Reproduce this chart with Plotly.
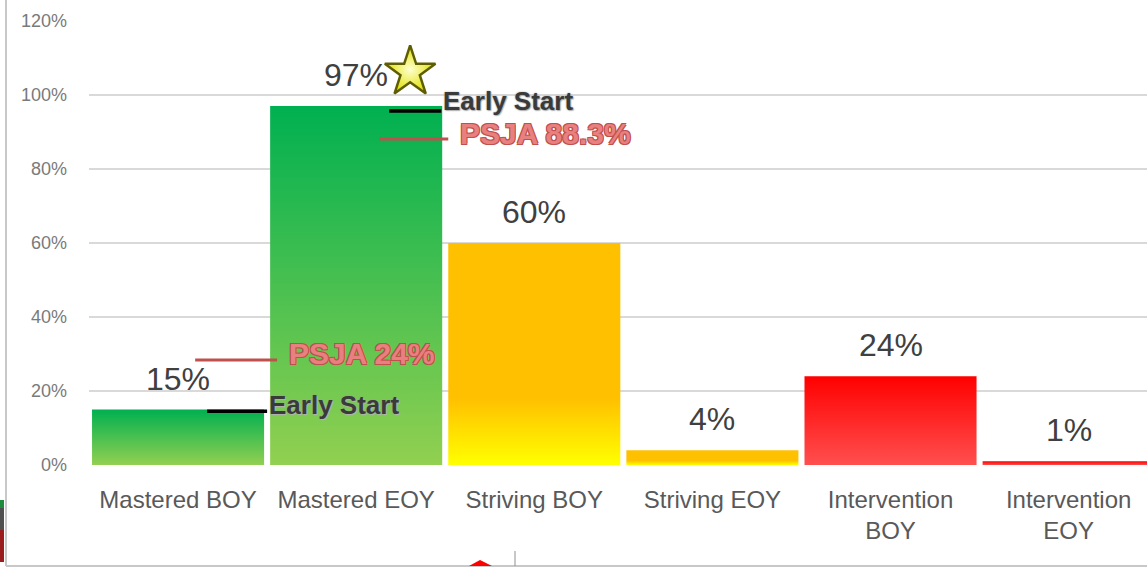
import plotly.graph_objects as go

categories = ["Mastered BOY", "Mastered EOY", "Striving BOY", "Striving EOY", "Intervention<br>BOY", "Intervention<br>EOY"]
values = [15, 97, 60, 4, 24, 1]
value_labels = ["15%", "97%", "60%", "4%", "24%", "1%"]
ytick_vals = [0, 20, 40, 60, 80, 100, 120]
ytick_text = ["0%", "20%", "40%", "60%", "80%", "100%", "120%"]

# reference markers on the Mastered bars
early_start_vals = [14.5, 95.7]
early_start_labels = ["Early Start", "Early Start"]
psja_vals = [28.4, 88.1]
psja_labels = ["PSJA 24%", "PSJA 88.3%"]

green = [[0, "#92D050"], [1, "#00B050"]]
gold = [[0, "#FFFF00"], [0.3, "#FFC000"], [1, "#FFC000"]]
red = [[0, "#FF4F4F"], [1, "#FF0000"]]
scales = [green, green, gold, gold, red, red]

fig = go.Figure()
hw = 0.483
for i, v in enumerate(values):
    fig.add_trace(go.Scatter(
        x=[i - hw, i - hw, i + hw, i + hw, i - hw],
        y=[0, v, v, 0, 0],
        mode="lines", line=dict(width=0), fill="toself",
        fillgradient=dict(type="vertical", colorscale=scales[i], start=0, stop=v),
        hoverinfo="skip", showlegend=False))
    fig.add_annotation(x=i, y=v, text=value_labels[i], showarrow=False,
                       yanchor="middle", yshift=31,
                       font=dict(family="Liberation Sans", size=32, color="#404040"))

es_offsets = [(0.163, 0.50), (0.185, 0.478)]
ps_offsets = [(0.096, 0.556), (0.129, 0.517)]
for i in range(2):
    a, b = es_offsets[i]
    fig.add_trace(go.Scatter(x=[i + a, i + b], y=[early_start_vals[i]] * 2, mode="lines",
                             line=dict(color="#000000", width=3.5), hoverinfo="skip", showlegend=False))
    fig.add_annotation(x=i + b, y=early_start_vals[i], text=early_start_labels[i], showarrow=False,
                       xanchor="left", yanchor="middle", xshift=0, yshift=6 if i == 0 else 10,
                       font=dict(family="Liberation Sans", size=26, color="#3a3a3a", weight=600,
                                 shadow="0 0 2px #a0a0a0, 1px 1px 1px #b8b8b8"))
    a, b = ps_offsets[i]
    fig.add_trace(go.Scatter(x=[i + a, i + b], y=[psja_vals[i]] * 2, mode="lines",
                             line=dict(color="#C0504D", width=3), hoverinfo="skip", showlegend=False))
    fig.add_annotation(x=i + b, y=psja_vals[i], text=psja_labels[i], showarrow=False,
                       xanchor="left", yanchor="middle", xshift=10, yshift=6,
                       font=dict(family="Liberation Sans", size=30, color="#E88080", weight="bold",
                                 shadow="-1px -1px 0 #C0504D, 1px -1px 0 #C0504D, -1px 1px 0 #C0504D, 1px 1px 0 #C0504D"))

# star beside the 97% label
fig.add_trace(go.Scatter(x=[1 + 0.303], y=[values[1] + 9.2], mode="markers",
                         marker=dict(symbol="star", size=38, color="#E0E000",
                                     gradient=dict(type="radial", color="#FFFFD0"),
                                     line=dict(color="#5E5E00", width=2.5)),
                         hoverinfo="skip", showlegend=False))


def px(xp):
    return (xp - 89) / 1058


def py(yp):
    return (465 - yp) / 444


fig.update_layout(
    width=1147, height=568,
    margin=dict(l=89, r=0, t=21, b=103),
    paper_bgcolor="white", plot_bgcolor="white",
    xaxis=dict(range=[-0.5, 5.44], tickmode="array", tickvals=list(range(len(categories))),
               ticktext=categories, showgrid=False, zeroline=False, showline=False,
               ticks="", ticklabelstandoff=18,
               tickfont=dict(family="Liberation Sans", size=24, color="#595959")),
    yaxis=dict(range=[0, 120], tickmode="array", tickvals=ytick_vals, ticktext=ytick_text,
               showgrid=True, gridcolor="#D9D9D9", gridwidth=1.5, zeroline=False,
               showline=False, ticks="", ticklabelstandoff=21,
               tickfont=dict(family="Liberation Sans", size=18, color="#7a7a7a")),
    shapes=[
        dict(type="line", xref="paper", yref="paper", x0=px(6), x1=px(6),
             y0=py(0), y1=py(566), line=dict(color="#C8C8C8", width=2)),
        dict(type="line", xref="paper", yref="paper", x0=px(6), x1=px(1147),
             y0=py(566), y1=py(566), line=dict(color="#C8C8C8", width=2)),
        dict(type="line", xref="paper", yref="paper", x0=px(515), x1=px(515),
             y0=py(551), y1=py(566), line=dict(color="#909090", width=1)),
        dict(type="path", xref="paper", yref="paper", layer="above",
             path=f"M {px(469)} {py(566)} L {px(480)} {py(560)} L {px(492)} {py(566)} Z",
             fillcolor="#FF0000", line=dict(width=0)),
        dict(type="rect", xref="paper", yref="paper", x0=px(0), x1=px(4),
             y0=py(500), y1=py(508), fillcolor="#1E8C3C", line=dict(width=0)),
        dict(type="rect", xref="paper", yref="paper", x0=px(0), x1=px(4),
             y0=py(508), y1=py(530), fillcolor="#505050", line=dict(width=0)),
        dict(type="rect", xref="paper", yref="paper", x0=px(0), x1=px(4),
             y0=py(530), y1=py(562), fillcolor="#9B1C1C", line=dict(width=0)),
    ],
)

fig.write_html("out.html", config={"displayModeBar": False},
               post_script="document.body.style.margin='0px';document.body.style.overflow='hidden';")
